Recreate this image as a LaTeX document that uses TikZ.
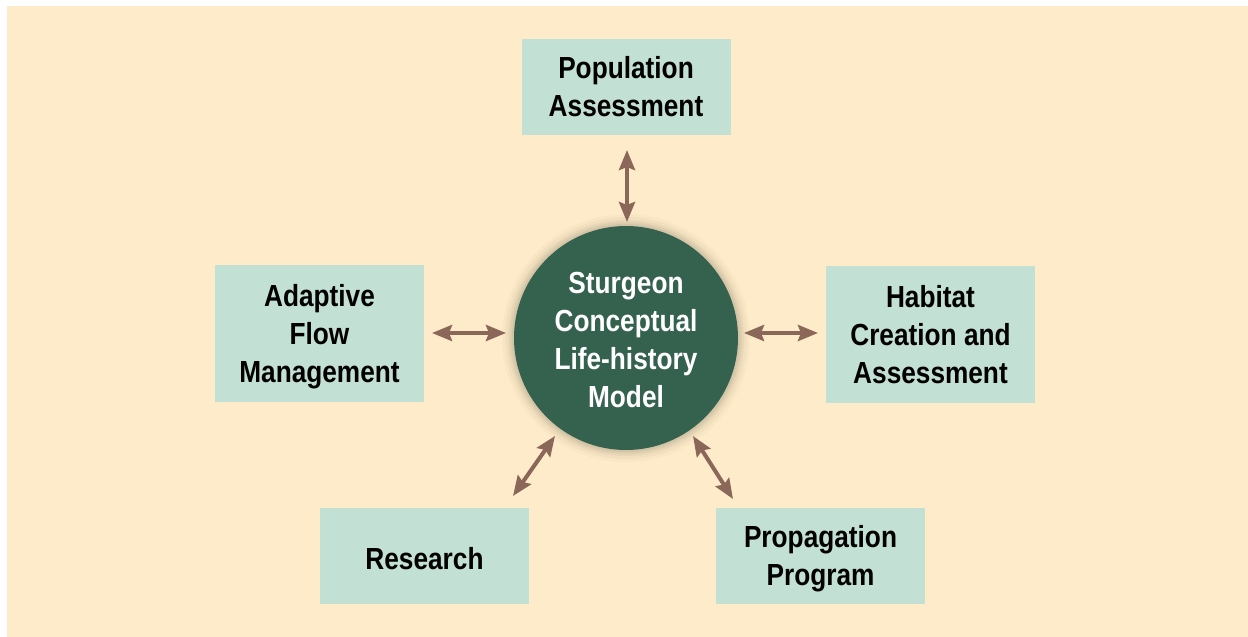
\documentclass[tikz,border=0pt]{standalone}
\usepackage{fontspec}
\setmainfont{Liberation Sans}[FakeStretch=0.86]
\usetikzlibrary{arrows.meta}
\definecolor{bg}{HTML}{FEEBC9}
\definecolor{boxc}{HTML}{C2E0D4}
\definecolor{circ}{HTML}{35614F}
\definecolor{arr}{HTML}{8A6759}
\tikzset{
  box/.style={fill=boxc, draw=none, minimum width=209pt, inner sep=0pt},
  lbl/.style={align=center, inner sep=0pt,
     font=\fontsize{30.5}{38}\selectfont\bfseries, text=black},
  link/.style={draw=arr, line width=4pt,
     {Stealth[length=20pt,width=16pt,inset=3pt]}-{Stealth[length=20pt,width=16pt,inset=3pt]}}
}
\begin{document}
\begin{tikzpicture}[x=1pt,y=-1pt]
\useasboundingbox (0,0) rectangle (1248,637);
\fill[white] (0,0) rectangle (1248,637);
\fill[bg] (7,6) rectangle (1248,637);
% boxes
\node[box, minimum height=96pt] (pop) at (626,87) {};
\node[lbl] (popt) at (pop.center) {Population\\Assessment};
\node[box, minimum height=137pt] (afm) at (319.5,333.5) {};
\node[lbl, yshift=-3pt] (afmt) at (afm.center) {Adaptive\\Flow\\Management};
\node[box, minimum height=137pt] (hab) at (930.5,334.5) {};
\node[lbl] (habt) at (hab.center) {Habitat\\Creation and\\Assessment};
\node[box, minimum height=96pt] (res) at (424.5,556) {};
\node[lbl, yshift=-3pt] (rest) at (res.center) {Research};
\node[box, minimum height=96pt] (prop) at (820.5,556) {};
\node[lbl, yshift=-3pt] (propt) at (prop.center) {Propagation\\Program};
% glow
\foreach \r/\o in {124/0.05,121/0.07,118/0.09,116/0.12,114/0.15}
  \fill[black!40!bg, opacity=\o] (626,338) circle (\r);
\node[circle, fill=circ, minimum size=224pt, inner sep=0pt] (core) at (626,338) {};
\node[lbl, text=white, yshift=-2pt] (coret) at (core.center)
      {Sturgeon\\Conceptual\\Life-history\\Model};
% connectors
\coordinate (t1) at (627,150); \coordinate (t2) at (627,222);
\coordinate (l1) at (432,333); \coordinate (l2) at (506,333);
\coordinate (r1) at (744,333); \coordinate (r2) at (818,333);
\coordinate (s1) at (513,496); \coordinate (s2) at (555,436);
\coordinate (e1) at (693,436); \coordinate (e2) at (733,499);
\draw[link] (t1) -- (t2);
\draw[link] (l1) -- (l2);
\draw[link] (r1) -- (r2);
\draw[link] (s1) -- (s2);
\draw[link] (e1) -- (e2);
\end{tikzpicture}
\end{document}
